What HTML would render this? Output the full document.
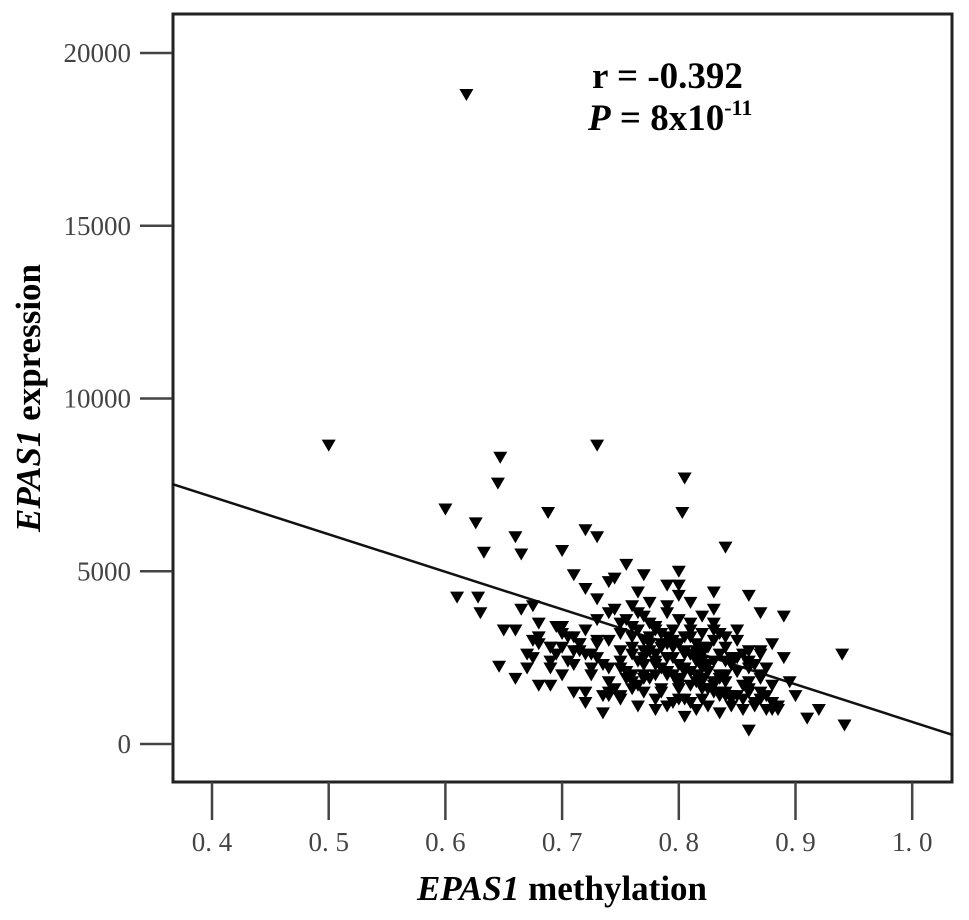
<!DOCTYPE html>
<html><head><meta charset="utf-8"><style>
html,body{margin:0;padding:0;background:#fff}
svg{display:block}
text{font-family:"Liberation Serif",serif}
</style></head><body>
<svg id="chart" width="969" height="920" viewBox="0 0 969 920" xmlns="http://www.w3.org/2000/svg">
<g id="axes"></g><g id="marks"></g>
<text x="592" y="88" font-size="37" font-weight="bold">r = -0.392</text>
<text x="588" y="130" font-size="37" font-weight="bold"><tspan font-style="italic">P</tspan> = 8x10<tspan font-size="22" dy="-15">-11</tspan></text>
<text x="562" y="900" font-size="35" font-weight="bold" text-anchor="middle"><tspan font-style="italic">EPAS1</tspan> methylation</text>
<text transform="translate(40,398) rotate(-90)" font-size="35" font-weight="bold" text-anchor="middle"><tspan font-style="italic">EPAS1</tspan> expression</text>
</svg>
<script>
const xTicks=[0.4,0.5,0.6,0.7,0.8,0.9,1.0];
const xTickLabels=["0. 4","0. 5","0. 6","0. 7","0. 8","0. 9","1. 0"];
const yTicks=[0,5000,10000,15000,20000];
const yTickLabels=["0","5000","10000","15000","20000"];
const fitLine=[[0.366,7525],[1.035,260]];
const xs=[0.618,0.50,0.73,0.647,0.645,0.805,0.803,0.60,0.626,0.688,0.633,0.66,0.70,0.72,0.73,0.61,0.628,0.63,0.646,0.94,0.942,0.92,0.91,0.895,0.86,
0.65,0.665,0.67,0.68,0.69,0.665,0.675,0.69,0.70,0.71,0.72,0.735,0.745,0.755,0.76,0.765,0.77,0.78,0.79,0.80,0.81,0.82,0.83,0.84,0.85,0.86,0.87,0.88,0.89,
0.72,0.73,0.74,0.75,0.76,0.77,0.78,0.79,0.80,0.81,0.82,0.83,0.84,0.85,0.86,0.87,0.88,
0.70,0.71,0.72,0.73,0.74,0.75,0.76,0.77,0.78,0.79,0.80,0.81,0.82,0.83,0.84,0.85,0.86,0.87,
0.68,0.69,0.70,0.71,0.72,0.73,0.74,0.75,0.76,0.77,0.78,0.79,0.80,0.81,0.82,0.83,0.84,0.85,0.86,0.87,0.88,
0.67,0.68,0.695,0.705,0.715,0.725,0.735,0.745,0.755,0.765,0.775,0.785,0.795,0.805,0.815,0.825,0.835,0.845,0.855,0.865,0.875,0.885,
0.66,0.675,0.69,0.70,0.715,0.73,0.745,0.76,0.775,0.79,0.80,0.81,0.82,0.83,0.84,0.85,0.86,0.87,
0.72,0.735,0.75,0.765,0.78,0.795,0.805,0.815,0.825,0.835,0.845,0.855,0.80,0.81,0.82,0.79,0.78,0.77,0.76,0.83,0.84,
0.66,0.69,0.71,0.74,0.77,0.80,0.82,0.84,0.86,0.88,0.675,0.725,0.755,0.785,0.815,0.845,0.875,
0.71,0.74,0.77,0.80,0.83,0.86,0.775,0.805,0.835,0.79,0.82,0.85,0.68,0.87,0.89,0.90,
0.755,0.765,0.775,0.785,0.795,0.805,0.815,0.825,0.835,0.845,0.76,0.77,0.78,0.79,0.80,0.81,0.82,0.83,0.84,0.75,
0.765,0.775,0.785,0.795,0.805,0.815,0.825,0.835,0.77,0.78,0.79,0.80,0.81,0.82,0.83,0.74,0.75,0.86,0.85,0.87,
0.79,0.80,0.81,0.82,0.815,0.805,0.795,0.785,0.825,0.835,0.845,0.775,0.765,0.855,0.865,0.73,0.725,0.715,0.705,0.695,
0.785,0.795,0.805,0.815,0.825,0.835,0.80,0.81,0.82,0.79,0.78,0.77,0.845,0.855,0.76,0.75,0.74,0.865,0.875,0.885];
const ys=[18800,8650,8650,8300,7550,7700,6700,6800,6400,6700,5550,6000,5600,6200,6000,4250,4250,3800,2250,2600,550,1000,750,1800,400,
3300,3900,2600,1700,2200,5500,4000,2800,3200,2300,1500,900,4800,5200,3400,4400,3000,2600,4000,4600,3500,2800,3300,5700,3000,2200,3800,2900,3700,
4500,4200,3800,3500,3100,3700,3300,2900,3600,3100,2700,3900,2400,3300,2700,2000,1700,
2800,3100,2600,2900,2200,3200,2600,2300,2000,2500,2300,2100,1900,2400,1800,2100,1600,1300,
3100,2400,2000,2700,3300,2500,1800,2200,2800,1900,2400,2100,1700,2600,2200,1500,2000,1400,1800,1500,1200,
2200,2900,2600,2400,2900,2000,2300,1600,2100,1700,1900,1500,2800,1300,2000,1600,1400,1100,1700,1200,1400,1000,
3300,3000,2800,3400,2700,3600,3900,4000,4100,3800,2900,3300,2600,3000,2800,2500,2300,2600,
1200,1400,1300,1100,1000,1200,800,1000,1100,900,1300,1000,4300,4100,3700,4600,3400,2700,1800,3500,3100,
1900,1700,1500,1400,2000,1600,1800,1400,1500,1000,2500,2200,1900,1600,2700,2500,2200,
4900,4700,4900,5000,4400,4300,2900,2600,3200,3100,3200,2500,3500,2700,2500,1400,
3600,3300,3100,2800,2500,2200,2400,2100,1900,2300,2000,2500,2300,2000,1800,1700,1600,1800,1500,2700,
3800,3500,3200,3000,2700,2500,2300,2000,2300,2600,2100,1900,2100,1900,1700,3000,2400,2400,2100,1900,
2500,2300,2600,2400,2900,3100,3300,2900,2800,2600,2500,2700,2400,2600,2300,3000,2600,2900,3100,3400,
2200,2000,2100,1800,1600,1500,1300,1200,1300,1100,1300,1500,1400,1300,1600,1400,1500,1100,1000,1100];
const X0=212,XS=1167,Y0=744,YS=172.75/5000;
function sx(v){return X0+(v-0.4)*XS}
function sy(v){return Y0-v*YS}
const NS="http://www.w3.org/2000/svg";
function mk(tag,attrs,parent){const e=document.createElementNS(NS,tag);for(const k in attrs)e.setAttribute(k,attrs[k]);parent.appendChild(e);return e;}
const axes=document.getElementById('axes'),marks=document.getElementById('marks');
const frame=mk('rect',{x:173,y:14,width:779,height:768,fill:'none',stroke:'#222','stroke-width':3},axes);


yTicks.forEach((t,i)=>{
 const l=mk('line',{x1:140,x2:172,y1:sy(t),y2:sy(t),stroke:'#444','stroke-width':2.5},axes);
 
 
 const tx=mk('text',{x:131,y:sy(t)+9,'font-size':27,'text-anchor':'end',fill:'#444'},axes);
 tx.textContent=yTickLabels[i];
 
 
});
xTicks.forEach((t,i)=>{
 const l=mk('line',{x1:sx(t),x2:sx(t),y1:782,y2:820,stroke:'#444','stroke-width':2.5},axes);
 
 
 const tx=mk('text',{x:sx(t),y:851,'font-size':27,'text-anchor':'middle',fill:'#444'},axes);
 tx.textContent=xTickLabels[i];
 
 
});
const fl=mk('line',{x1:sx(fitLine[0][0]),y1:sy(fitLine[0][1]),x2:sx(fitLine[1][0]),y2:sy(fitLine[1][1]),stroke:'#111','stroke-width':2.5},marks);


for(let i=0;i<xs.length;i++){
 const cx=sx(xs[i]),cy=sy(ys[i]);
 const p=mk('polygon',{points:`${cx-7},${cy-5.5} ${cx+7},${cy-5.5} ${cx},${cy+6.5}`,fill:'#000'},marks);
 
 
}
</script>
</body></html>
